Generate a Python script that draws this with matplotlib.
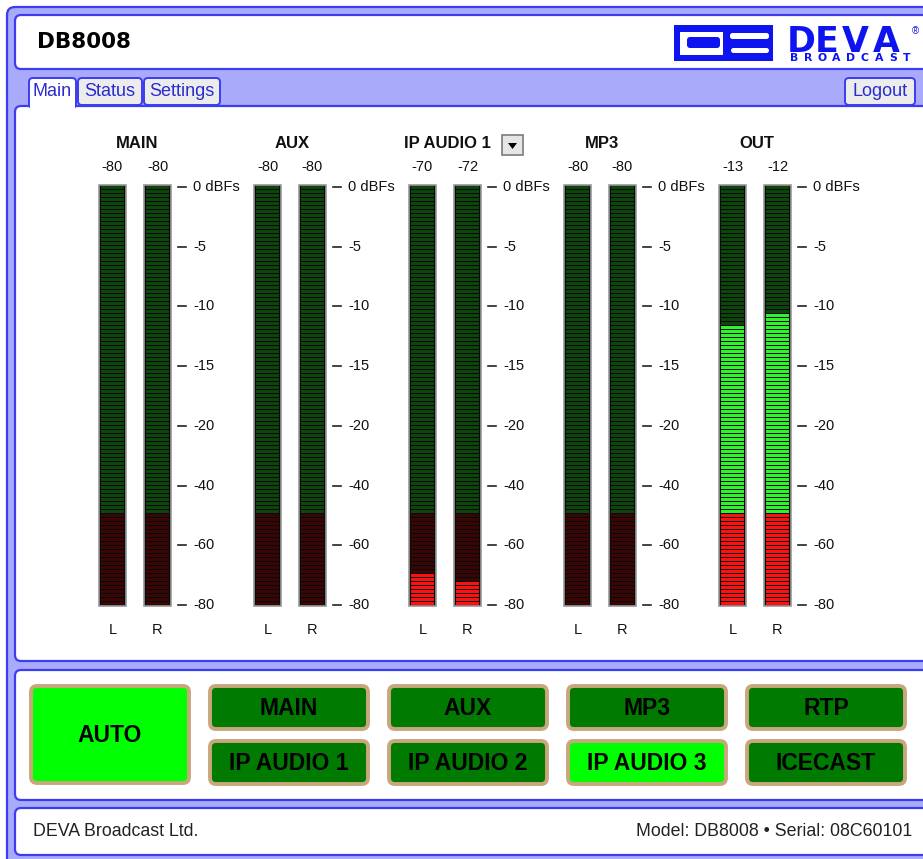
import numpy as np
import matplotlib.pyplot as plt
from matplotlib.patches import FancyBboxPatch, Rectangle, Polygon

W, H = 923, 859

GROUPS = ["MAIN", "AUX", "IP AUDIO 1", "MP3", "OUT"]
LEVEL_L = [-80, -80, -70, -80, -11.7]
LEVEL_R = [-80, -80, -72.7, -80, -10.7]
READ_L = ["-80", "-80", "-70", "-80", "-13"]
READ_R = ["-80", "-80", "-72", "-80", "-12"]
SCALE_DB = [0, -5, -10, -15, -20, -40, -60, -80]
SCALE_LABELS = ["0 dBFs", "-5", "-10", "-15", "-20", "-40", "-60", "-80"]
RED_BELOW = -50

BTN_TOP = ["MAIN", "AUX", "MP3", "RTP"]
BTN_BOTTOM = ["IP AUDIO 1", "IP AUDIO 2", "IP AUDIO 3", "ICECAST"]
ACTIVE = {"AUTO", "IP AUDIO 3"}
TABS = ["Main", "Status", "Settings"]

LAVENDER = "#aaaafb"
BLUE_EDGE = "#3c3cf2"
LOGO_BLUE = "#0d14f0"
TAB_TEXT = "#2a2ad0"

METER_TOP, METER_BOT = 185, 606
SEG_PITCH = 4
TICK_Y = np.linspace(187, 605, len(SCALE_DB))


def db_to_y(db):
    return np.interp(-np.asarray(db, dtype=float), [-d for d in SCALE_DB], TICK_Y)


# segments snapped to whole pixels: 3 px lit + 1 px gap
seg_top = np.arange(METER_TOP + 1, METER_BOT - 1, SEG_PITCH)
seg_h = SEG_PITCH - 1
seg_mid = seg_top + seg_h / 2
red_y = db_to_y(RED_BELOW)


def box(ax, x0, y0, x1, y1, fc, ec, lw=1.6, r=6, z=1):
    p = FancyBboxPatch((x0, y0), x1 - x0, y1 - y0,
                       boxstyle=f"round,pad=0,rounding_size={r}",
                       fc=fc, ec=ec, lw=lw, zorder=z)
    ax.add_patch(p)
    return p


def draw_meter(ax, xc, level):
    ax.add_patch(Rectangle((xc - 13.5, METER_TOP), 27, METER_BOT - METER_TOP,
                           fc="#0a0a0a", ec="#9a9a9a", lw=1.2, zorder=3))
    lit = seg_mid > db_to_y(level)
    red = seg_mid > red_y
    colors = np.where(lit, np.where(red, "#ff1010", "#2cf52c"),
                      np.where(red, "#3a0505", "#0d460d"))
    ax.bar(np.full(len(seg_top), xc), seg_h, bottom=seg_top, width=23,
           color=list(colors), linewidth=0, antialiased=False, zorder=4)


plt.rcParams["font.family"] = ["Liberation Sans", "DejaVu Sans"]
fig = plt.figure(figsize=(W / 100, H / 100), dpi=100)
ax = fig.add_axes([0, 0, 1, 1])
ax.set_facecolor("white")

# frame and panels
box(ax, 7, 7, 940, 880, LAVENDER, BLUE_EDGE, r=8, z=0)
box(ax, 15, 15, 930, 69, "white", BLUE_EDGE)
box(ax, 15, 106, 930, 661, "white", BLUE_EDGE)
box(ax, 15, 670, 930, 800, "white", BLUE_EDGE)
box(ax, 15, 808, 930, 855, "white", BLUE_EDGE)

# header
ax.text(37, 42, "DB8008", fontsize=15.5, fontweight="bold", family="DejaVu Sans",
        va="center", ha="left", color="black")
ax.add_patch(Rectangle((674, 25), 99, 36, fc=LOGO_BLUE, ec="none", zorder=2))
ax.add_patch(Rectangle((680, 32), 43, 23, fc="white", ec="none", zorder=3))
box(ax, 687, 37, 720, 48, LOGO_BLUE, "none", lw=0, r=3, z=4)
box(ax, 730, 33, 769, 39, "white", "none", lw=0, r=2.5, z=3)
box(ax, 731, 48, 769, 53, "white", "none", lw=0, r=2.5, z=3)
for ch, x in zip("DEVA", [801, 827, 855, 886]):
    ax.text(x, 52, ch, fontsize=25, fontweight="bold", family="DejaVu Sans",
            color=LOGO_BLUE, ha="center", va="baseline")
for ch, x in zip("BROADCAST", np.linspace(794, 907, 9)):
    ax.text(x, 61, ch, fontsize=7.8, fontweight="bold", family="DejaVu Sans",
            color=LOGO_BLUE, ha="center", va="baseline")
ax.text(915, 31, "®", fontsize=7, color=LOGO_BLUE, ha="center", va="center")

# tabs
tab_x = [(29, 76), (78, 142), (144, 220)]
for name, (x0, x1) in zip(TABS, tab_x):
    active = name == "Main"
    box(ax, x0, 78, x1, 108 if active else 105, "white" if active else "#ececec",
        BLUE_EDGE, lw=1.4, r=4, z=2)
    if active:
        ax.add_patch(Rectangle((x0 + 1, 103), x1 - x0 - 2, 6, fc="white", ec="none", zorder=3))
    ax.text((x0 + x1) / 2, 91, name, fontsize=13, color=TAB_TEXT, ha="center", va="center", zorder=4)
box(ax, 845, 78, 915, 105, "#ececec", BLUE_EDGE, lw=1.4, r=4, z=2)
ax.text(880, 91, "Logout", fontsize=13, color=TAB_TEXT, ha="center", va="center", zorder=4)

# meters
for i, name in enumerate(GROUPS):
    xl = 99 + 155 * i
    cl, cr = xl + 13.5, xl + 58.5
    draw_meter(ax, cl, LEVEL_L[i])
    draw_meter(ax, cr, LEVEL_R[i])
    ax.text((cl + cr) / 2 + 2, 143, name, fontsize=12, fontweight="bold",
            ha="center", va="center", color="#111")
    ax.text(cl, 167, READ_L[i], fontsize=10.5, ha="center", va="center", color="#111")
    ax.text(cr, 167, READ_R[i], fontsize=10.5, ha="center", va="center", color="#111")
    ax.text(cl, 630, "L", fontsize=10.5, ha="center", va="center", color="#111")
    ax.text(cr, 630, "R", fontsize=10.5, ha="center", va="center", color="#111")
    for ty, lab in zip(TICK_Y, SCALE_LABELS):
        ax.plot([xl + 79, xl + 87], [ty, ty], color="#222", lw=1.2, zorder=3)
        ax.text(xl + 94, ty, lab, fontsize=10.5, ha="left", va="center", color="#111")

# dropdown next to IP AUDIO 1
ax.add_patch(Rectangle((502, 135), 21, 20, fc="#e6e6e6", ec="#7a7a7a", lw=1.2, zorder=3))
ax.add_patch(Polygon([(508, 143), (517, 143), (512.5, 149)], closed=True, fc="black", zorder=4))


# buttons
def button(x0, y0, x1, y1, label):
    fc = "#00ff00" if label in ACTIVE else "#007a00"
    box(ax, x0, y0, x1, y1, fc, "#c9a77c", lw=2.8, r=6, z=2)
    ax.text((x0 + x1) / 2, (y0 + y1) / 2 + 1, label, fontsize=16.5, fontweight="bold",
            ha="center", va="center", color="black", zorder=3)


button(31, 686, 189, 783, "AUTO")
for j, (top, bot) in enumerate(zip(BTN_TOP, BTN_BOTTOM)):
    x0 = 210 + 179 * j
    button(x0, 686, x0 + 158, 729, top)
    button(x0, 741, x0 + 158, 784, bot)

# footer
ax.text(33, 831, "DEVA Broadcast Ltd.", fontsize=12.8, ha="left", va="center", color="#222")
ax.text(912, 831, "Model: DB8008 \u2022 Serial: 08C60101", fontsize=12.8,
        ha="right", va="center", color="#222")

ax.set_xlim(0, W)
ax.set_ylim(H, 0)
ax.axis("off")
fig.savefig("out.png", dpi=100, facecolor="white")
